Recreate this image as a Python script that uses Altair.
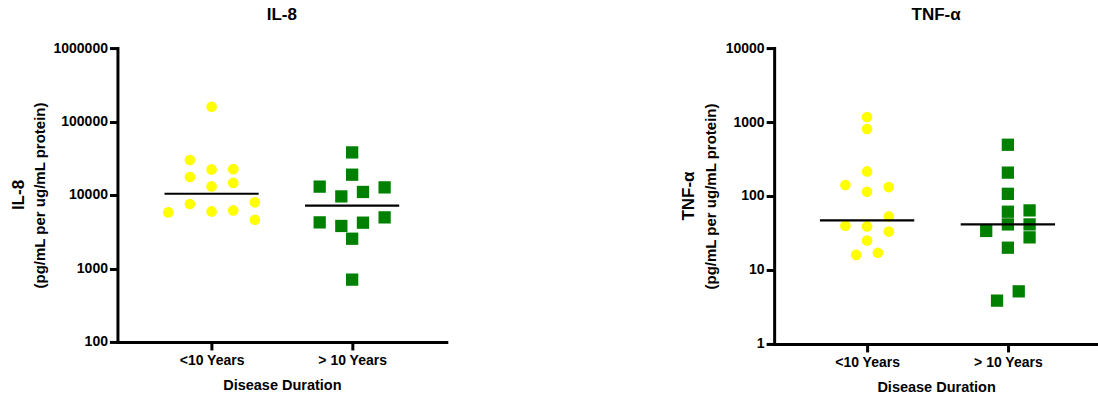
import altair as alt
import pandas as pd

FONT = "Liberation Sans"
YELLOW = "#FFFF00"
GREEN = "#008000"

groups = ["<10 Years", "> 10 Years"]

# IL-8 (pg/mL per ug/mL protein)
il8_short = [159000, 29900, 22300, 22500, 17600, 14600, 13100, 5800, 7550, 5980, 6170, 7940, 4610]
il8_short_col = [0, -2, 0, 2, -2, 2, 0, -4, -2, 0, 2, 4, 4]
il8_long = [38000, 18900, 13000, 9570, 11000, 12700, 4240, 3790, 2540, 4200, 4960, 705]
il8_long_col = [0, 0, -3, -1, 1, 3, -3, -1, 0, 1, 3, 0]
il8_median = [10400, 7150]
il8_ticks = [100, 1000, 10000, 100000, 1000000]

# TNF-alpha (pg/mL per ug/mL protein)
tnf_short = [1170, 805, 215, 141, 132, 114, 53, 39.7, 38.8, 33, 25, 16, 17.1]
tnf_short_col = [0, 0, 0, -2, 2, 0, 2, -2, 0, 2, 0, -1, 1]
tnf_long = [493, 207, 107, 61.3, 41.3, 20, 63.9, 41.3, 27.6, 33.7, 5.14, 3.85]
tnf_long_col = [0, 0, 0, 0, 0, 0, 2, 2, 2, -2, 1, -1]
tnf_median = [46.8, 41.3]
tnf_ticks = [1, 10, 100, 1000, 10000]

COL_STEP = 0.077   # horizontal spread of one column of points
HALF_LINE = 0.335  # half length of the median bar


def panel(name, short, short_col, long, long_col, medians, ticks,
          width, height, xdom, lead_x, ytitle_pad):
    pts_a = pd.DataFrame({"v": short, "x": [1 + c * COL_STEP for c in short_col]})
    pts_b = pd.DataFrame({"v": long, "x": [2 + c * COL_STEP for c in long_col]})
    med = pd.DataFrame({
        "v": medians,
        "x": [1 - HALF_LINE, 2 - HALF_LINE],
        "x2": [1 + HALF_LINE, 2 + HALF_LINE],
    })

    label_expr = f"datum.value == 1 ? '{groups[0]}' : '{groups[1]}'"
    xenc = alt.X(
        "x:Q",
        scale=alt.Scale(domain=xdom, nice=False, zero=False),
        axis=alt.Axis(
            values=[1, 2], labelExpr=label_expr, title="Disease Duration",
            grid=False, labelFontSize=14, titleFontSize=14.5,
            labelPadding=4, titlePadding=11,
        ),
    )
    yenc = alt.Y(
        "v:Q",
        scale=alt.Scale(type="log", domain=[ticks[0], ticks[-1]], nice=False),
        axis=alt.Axis(
            values=ticks, format="d", grid=False,
            title="(pg/mL per ug/mL protein)", titleFontSize=15,
            labelFontSize=14, labelPadding=2, titlePadding=ytitle_pad,
        ),
    )

    circles = alt.Chart(pts_a).mark_point(
        shape="circle", filled=True, size=113, color=YELLOW, opacity=1
    ).encode(x=xenc, y=yenc)
    squares = alt.Chart(pts_b).mark_point(
        shape="square", filled=True, size=151, color=GREEN, opacity=1
    ).encode(x="x:Q", y="v:Q")
    bars = alt.Chart(med).mark_rule(color="black", strokeWidth=2.2).encode(
        x="x:Q", x2="x2:Q", y="v:Q"
    )
    lead = alt.Chart(pd.DataFrame({"t": [name]})).mark_text(
        angle=270, fontSize=17, fontWeight="bold", font=FONT, color="black",
        align="center", baseline="middle",
    ).encode(text="t:N", x=alt.value(lead_x), y=alt.value(height / 2))

    return alt.layer(circles, squares, bars, lead).properties(
        width=width, height=height,
        title=alt.TitleParams(name, fontSize=17, fontWeight="bold", font=FONT,
                              anchor="middle", offset=17, color="black"),
    )


left = panel("IL-8", il8_short, il8_short_col, il8_long, il8_long_col,
             il8_median, il8_ticks, 329, 294, [0.33, 2.67], -98, 5)
right = panel("TNF-α", tnf_short, tnf_short_col, tnf_long, tnf_long_col,
              tnf_median, tnf_ticks, 324, 296, [0.34, 2.64], -85, 7)

chart = alt.hconcat(left, right, spacing=234).properties(
    padding={"left": 10.5, "top": 6, "right": 0, "bottom": 0}
).configure_view(stroke=None).configure_axis(
    domainColor="black", domainWidth=3, tickColor="black", tickWidth=3,
    tickSize=8, labelColor="black", titleColor="black", labelFont=FONT,
    titleFont=FONT, labelFontWeight="bold", titleFontWeight="bold",
    domainCap="square",
)

chart.save("out.html", embed_options={"renderer": "svg", "actions": False})
